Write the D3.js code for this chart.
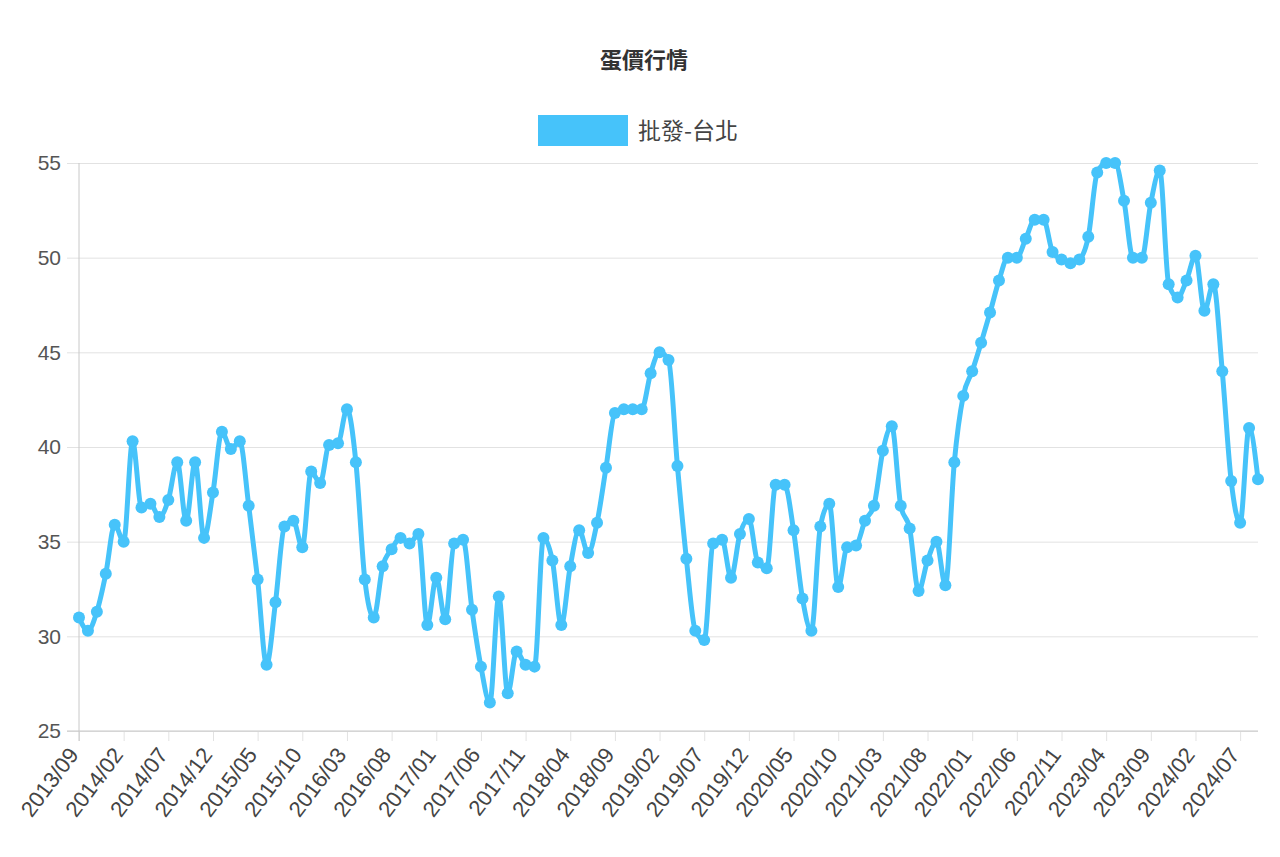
<!DOCTYPE html>
<html>
<head>
<meta charset="utf-8">
<script src="https://cdn.jsdelivr.net/npm/d3@7"></script>
<style>
  html, body { margin: 0; padding: 0; background: #fff; }
  svg { display: block; }
</style>
</head>
<body>
<svg id="chart" width="1280" height="857"></svg>
<script>
const chartTitle = "蛋價行情";
const seriesName = "批發-台北";

const categories = [
  "2013/09","2013/10","2013/11","2013/12",
  "2014/01","2014/02","2014/03","2014/04","2014/05","2014/06","2014/07","2014/08","2014/09","2014/10","2014/11","2014/12",
  "2015/01","2015/02","2015/03","2015/04","2015/05","2015/06","2015/07","2015/08","2015/09","2015/10","2015/11","2015/12",
  "2016/01","2016/02","2016/03","2016/04","2016/05","2016/06","2016/07","2016/08","2016/09","2016/10","2016/11","2016/12",
  "2017/01","2017/02","2017/03","2017/04","2017/05","2017/06","2017/07","2017/08","2017/09","2017/10","2017/11","2017/12",
  "2018/01","2018/02","2018/03","2018/04","2018/05","2018/06","2018/07","2018/08","2018/09","2018/10","2018/11","2018/12",
  "2019/01","2019/02","2019/03","2019/04","2019/05","2019/06","2019/07","2019/08","2019/09","2019/10","2019/11","2019/12",
  "2020/01","2020/02","2020/03","2020/04","2020/05","2020/06","2020/07","2020/08","2020/09","2020/10","2020/11","2020/12",
  "2021/01","2021/02","2021/03","2021/04","2021/05","2021/06","2021/07","2021/08","2021/09","2021/10","2021/11","2021/12",
  "2022/01","2022/02","2022/03","2022/04","2022/05","2022/06","2022/07","2022/08","2022/09","2022/10","2022/11","2022/12",
  "2023/01","2023/02","2023/03","2023/04","2023/05","2023/06","2023/07","2023/08","2023/09","2023/10","2023/11","2023/12",
  "2024/01","2024/02","2024/03","2024/04","2024/05","2024/06","2024/07","2024/08","2024/09"
];

const prices = [
  31.0, 30.3, 31.3, 33.3,
  35.9, 35.0, 40.3, 36.8, 37.0, 36.3, 37.2, 39.2, 36.1, 39.2, 35.2, 37.6,
  40.8, 39.9, 40.3, 36.9, 33.0, 28.5, 31.8, 35.8, 36.1, 34.7, 38.7, 38.1,
  40.1, 40.2, 42.0, 39.2, 33.0, 31.0, 33.7, 34.6, 35.2, 34.9, 35.4, 30.6,
  33.1, 30.9, 34.9, 35.1, 31.4, 28.4, 26.5, 32.1, 27.0, 29.2, 28.5, 28.4,
  35.2, 34.0, 30.6, 33.7, 35.6, 34.4, 36.0, 38.9, 41.8, 42.0, 42.0, 42.0,
  43.9, 45.0, 44.6, 39.0, 34.1, 30.3, 29.8, 34.9, 35.1, 33.1, 35.4, 36.2,
  33.9, 33.6, 38.0, 38.0, 35.6, 32.0, 30.3, 35.8, 37.0, 32.6, 34.7, 34.8,
  36.1, 36.9, 39.8, 41.1, 36.9, 35.7, 32.4, 34.0, 35.0, 32.7, 39.2, 42.7,
  44.0, 45.5, 47.1, 48.8, 50.0, 50.0, 51.0, 52.0, 52.0, 50.3, 49.9, 49.7,
  49.9, 51.1, 54.5, 55.0, 55.0, 53.0, 50.0, 50.0, 52.9, 54.6, 48.6, 47.9,
  48.8, 50.1, 47.2, 48.6, 44.0, 38.2, 36.0, 41.0, 38.3
];

const yTicks = [25, 30, 35, 40, 45, 50, 55];
const xTickStep = 5;

const color = "#46c3fa";
const svg = d3.select("#chart");
const plotLeft = 79, plotRight = 1258, plotTop = 163, plotBottom = 731;

const x = d3.scalePoint().domain(categories).range([plotLeft, plotRight]);
const y = d3.scaleLinear().domain([25, 55]).range([plotBottom, plotTop]);

const xTickValues = categories.filter((d, i) => i % xTickStep === 0);

// Title
svg.append("text")
  .attr("x", 644).attr("y", 68)
  .attr("text-anchor", "middle")
  .attr("font-family", "'Noto Sans CJK TC', 'Noto Sans', sans-serif")
  .attr("font-size", 22).attr("font-weight", 600)
  .attr("fill", "#333")
  .text(chartTitle);

// Legend
svg.append("rect")
  .attr("x", 538).attr("y", 115).attr("width", 90).attr("height", 31)
  .attr("fill", color);
svg.append("text")
  .attr("x", 638).attr("y", 139)
  .attr("font-family", "'Noto Sans CJK TC', 'Noto Sans', sans-serif")
  .attr("font-size", 23)
  .attr("fill", "#444")
  .text(seriesName);

// Y grid
const yAxis = d3.axisLeft(y).tickValues(yTicks).tickSize(-(plotRight - plotLeft)).tickPadding(8);
const gy = svg.append("g").attr("transform", `translate(${plotLeft},0)`).call(yAxis);
gy.select(".domain").remove();
gy.selectAll(".tick line").attr("stroke", "#e2e2e2").attr("x1", -12);
gy.selectAll(".tick text")
  .attr("font-family", "Arial, 'Liberation Sans', sans-serif")
  .attr("font-size", 21).attr("fill", "#555").attr("x", -18);

// X grid
const xAxis = d3.axisBottom(x).tickValues(xTickValues).tickSize(-(plotBottom - plotTop)).tickPadding(10);
const gx = svg.append("g").attr("transform", `translate(0,${plotBottom})`).call(xAxis);
gx.select(".domain").remove();
gx.selectAll(".tick line").attr("stroke", "#e2e2e2").attr("y2", 10);
gx.selectAll(".tick text")
  .attr("font-family", "Arial, 'Liberation Sans', sans-serif")
  .attr("font-size", 22).attr("fill", "#444")
  .attr("text-anchor", "end")
  .attr("dy", 0)
  .attr("transform", "translate(0,24) rotate(-53)")
  .attr("y", 0).attr("x", 0);

// Axis lines
svg.append("line").attr("x1", plotLeft).attr("x2", plotLeft).attr("y1", plotTop).attr("y2", plotBottom + 10)
  .attr("stroke", "#c8c8c8");
svg.append("line").attr("x1", plotLeft - 12).attr("x2", plotRight).attr("y1", plotBottom).attr("y2", plotBottom)
  .attr("stroke", "#c8c8c8");

// Line
const data = categories.map((c, i) => ({ c, v: prices[i] }));
const line = d3.line()
  .x(d => x(d.c))
  .y(d => y(d.v))
  .curve(d3.curveMonotoneX);

svg.append("path")
  .datum(data)
  .attr("d", line)
  .attr("fill", "none")
  .attr("stroke", color)
  .attr("stroke-width", 5)
  .attr("stroke-linejoin", "round");

svg.append("g").selectAll("circle")
  .data(data)
  .join("circle")
  .attr("cx", d => x(d.c))
  .attr("cy", d => y(d.v))
  .attr("r", 6)
  .attr("fill", color);
</script>
</body>
</html>
